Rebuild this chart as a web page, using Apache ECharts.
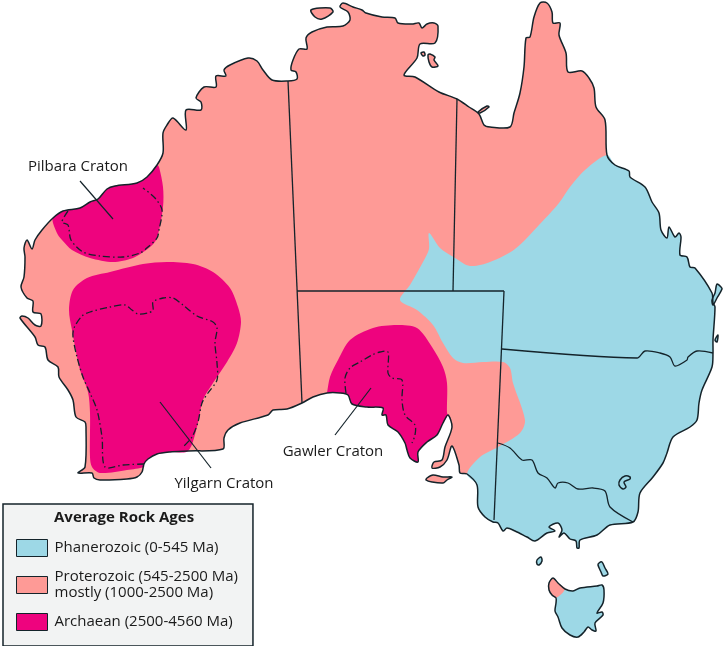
<!DOCTYPE html>
<html>
<head>
    <meta charset="utf-8">
    <title>Average Rock Ages</title>
    <script src="https://cdn.jsdelivr.net/npm/echarts@6/dist/echarts.min.js"></script>
    <style>
        html, body { margin: 0; padding: 0; background: #fff; }
    </style>
</head>
<body>
<div id="main" style="width: 723px;height:646px;"></div>
<script type="text/javascript">
    // map outline, traced clockwise from the south west corner
    var coastWest = [[78,473],[85,467],[86,427],[85,422],[76,417],[73,400],[68,390],[59,377],[58,367],[48,360],[45,347],[38,345],[35,337],[20,318],[22,316],[28,318],[35,325],[41,326],[41,314],[33,312],[33,301],[27,298],[21,287],[24,277],[25,257],[24,248],[27,240],[32,249],[35,240],[42,230],[53,218]];
    var coastPilbara = [[53,218],[63,211],[80,208],[90,202],[98,199],[107,189],[115,186],[137,183],[147,177],[157,165]];
    var coastNorth = [[157,165],[163,153],[163,133],[167,125],[173,118],[186,130],[186,110],[201,110],[201,102],[196,98],[204,87],[216,87],[216,76],[226,76],[224,70],[230,65],[248,58],[257,61],[263,70],[272,80],[288,81],[297,79],[296,72],[291,70],[293,60],[299,49],[307,49],[306,38],[312,32],[327,27],[343,26],[350,20],[348,12],[340,7],[343,3],[353,7],[362,10],[366,13],[382,17],[395,18],[398,23],[412,24],[419,23],[422,28],[427,24],[434,23],[438,26],[435,43],[420,44],[417,58],[404,75],[415,77],[439,92],[457,99],[469,107],[479,114],[484,125],[490,127],[510,127],[514,113],[520,93],[524,67],[526,38],[530,37],[534,17],[540,3],[547,3],[552,12],[553,23],[560,23],[559,35],[566,53],[568,72],[582,71],[589,78],[594,88],[596,107],[605,120],[607,155]];
    var coastEast = [[607,155],[615,165],[629,171],[630,177],[645,187],[652,202],[659,213],[661,230],[667,238],[669,227],[675,237],[679,233],[681,237],[680,255],[687,257],[690,267],[695,268],[712,293],[713,303],[715,307],[713,340],[713,353],[712,367],[702,390],[699,403],[697,420],[690,427],[673,437],[667,453],[663,463],[653,477],[640,493],[638,512],[633,522],[610,525],[597,535],[580,540],[579,548],[577,548],[576,541],[570,539],[564,533],[559,537],[562,530],[558,523],[549,527],[555,531],[547,533],[535,541],[527,537],[515,531],[507,528],[503,531],[498,523],[493,522],[485,517],[478,507],[477,485],[467,474]];
    var coastGulfs = [[467,474],[460,473],[459,465],[452,446],[447,460],[440,467],[432,468],[434,462],[442,460],[445,447],[452,427],[448,415]];
    var coastGawler = [[448,415],[443,423],[437,435],[427,442],[418,452],[418,462],[410,458],[407,450],[405,443],[398,432],[388,425],[386,415],[382,415],[383,408],[367,407],[352,404],[348,395],[340,393],[327,393]];
    var coastBight = [[327,393],[313,397],[302,403],[287,409],[273,410],[268,415],[240,423],[228,430],[224,438],[223,449],[188,451]];
    var coastYilgarn = [[188,451],[170,452],[157,454],[148,459],[144,464]];
    var coastSouthWest = [[144,464],[142,472],[137,477],[127,479],[100,480],[94,478],[92,473],[78,473]];

    var tasmania = [[549,583],[553,578],[558,583],[565,589],[573,591],[580,588],[597,586],[602,585],[604,590],[603,603],[597,613],[602,612],[603,615],[595,623],[596,631],[592,630],[588,627],[584,632],[578,637],[570,635],[562,628],[558,617],[555,611],[556,603],[556,598],[552,595],[549,590]];
    var tasmaniaOld = [[549,583],[553,578],[558,583],[565,589],[556,598],[552,595],[549,590]];

    var islandsOld = [
        [[311,10],[330,8],[333,12],[322,19],[315,17]],
        [[428,55],[430,54],[435,57],[434,60],[438,66],[432,67],[429,62]],
        [[421,53],[424,52],[425,55],[423,56]],
        [[478,112],[487,106],[489,107],[480,113]],
        [[427,478],[433,475],[443,477],[452,477],[447,480],[443,483],[432,482],[426,480]]
    ];
    var islandsYoung = [
        [[717,284],[721,287],[722,289],[717,298],[713,305],[712,300],[715,293]],
        [[715,340],[718,335],[717,342]],
        [[537,560],[541,557],[542,561],[539,565],[537,564]],
        [[599,563],[602,562],[605,568],[608,574],[603,576],[601,572],[598,565]]
    ];

    // edges between the rock ages inside the land
    var youngEdge = [[467,474],[480,457],[498,447],[520,433],[525,420],[513,383],[510,368],[503,362],[483,362],[463,363],[453,358],[443,343],[433,325],[417,310],[400,300],[410,285],[423,262],[429,249],[429,233],[440,248],[455,258],[470,266],[490,262],[515,249],[539,225],[559,203],[570,187],[585,170],[607,155]];
    var pilbaraEdge = [[159,167],[163,187],[163,207],[157,238],[150,247],[133,258],[113,262],[90,258],[72,250],[62,240],[58,235],[53,223]];
    var yilgarnEdge = [[144,467],[127,470],[100,473],[92,467],[90,457],[90,413],[88,392],[80,370],[72,330],[69,310],[73,290],[87,278],[110,272],[143,264],[167,262],[193,264],[213,272],[230,288],[238,307],[241,322],[237,343],[227,362],[213,383],[203,400],[197,427],[188,451]];
    var gawlerEdge = [[327,393],[330,377],[338,360],[350,340],[373,328],[397,325],[417,328],[432,347],[443,367],[447,383],[447,413]];

    // dash-dot limits of the exposed cratons
    var pilbaraLimit = [[68,211],[62,222],[68,225],[71,240],[83,252],[100,256],[123,257],[140,253],[148,247],[157,238],[159,230],[162,210],[155,198],[143,188]];
    var yilgarnLimit = [[144,464],[123,465],[105,467],[102,437],[97,410],[90,393],[83,377],[77,357],[73,337],[74,328],[82,316],[90,312],[110,307],[125,305],[132,310],[138,314],[148,313],[153,310],[153,302],[163,298],[173,298],[183,305],[197,316],[213,322],[217,328],[215,343],[217,363],[217,380],[208,393],[202,403],[198,422],[192,437],[183,447]];
    var gawlerLimit = [[346,393],[345,378],[350,368],[360,362],[372,355],[380,352],[388,352],[388,373],[392,378],[402,380],[402,400],[405,415],[415,425],[415,435],[412,443]];

    // state borders
    var borderWaNt = [[288,81],[302,403]];
    var borderNtSa = [[297,291],[504,291]];
    var borderNtQld = [[457,99],[453,291]];
    var borderSaEast = [[504,291],[494,520]];
    var borderQldNsw = [[502,349],[637,358],[645,351],[660,353],[670,357],[675,366],[687,360],[688,357],[697,351],[713,353]];
    var borderNswVic = [[498,443],[510,448],[522,460],[532,460],[538,473],[547,478],[555,488],[558,483],[568,483],[578,489],[593,488],[605,491],[610,507],[633,522]];
    var lakeHook = [[630,477],[625,476],[620,480],[619,485],[623,489],[626,487],[624,482],[630,479]];

    // leader lines and their labels
    var cratonNames = ['Pilbara Craton', 'Yilgarn Craton', 'Gawler Craton'];
    var cratonLabelAt = [[78,167],[224,484],[333,452]];
    var cratonLeaders = [
        [[80,181],[113,219]],
        [[160,402],[211,468]],
        [[371,388],[335,435]]
    ];

    var legendTitle = 'Average Rock Ages';
    var legendNames = ['Phanerozoic (0-545 Ma)', 'Proterozoic (545-2500 Ma)\nmostly (1000-2500 Ma)', 'Archaean (2500-4560 Ma)'];

    // joins the traced pieces, dropping the point two neighbours share
    function join() {
        var out = [];
        for (var i = 0; i < arguments.length; i++) {
            out = out.concat(i ? arguments[i].slice(1) : arguments[i]);
        }
        return out;
    }

    var landAll = join(coastWest, coastPilbara, coastNorth, coastEast, coastGulfs, coastGawler, coastBight, coastYilgarn, coastSouthWest).slice(0, -1);
    var youngLand = join(coastEast, youngEdge).slice(0, -1);
    var pilbara = [].concat(coastPilbara, pilbaraEdge);
    var yilgarn = [].concat(coastYilgarn, yilgarnEdge).slice(0, -1);
    var gawler = [].concat(coastGawler, gawlerEdge);

    var lineColor = '#14232a';
    var smoothing = 0.3;

    function areaSeries(name, color, shapes, z) {
        return {
            name: name,
            type: 'custom',
            coordinateSystem: 'cartesian2d',
            silent: true,
            z: z,
            itemStyle: { color: color },
            data: shapes.map(function (s, i) { return [i]; }),
            renderItem: function (params, api) {
                return {
                    type: 'polygon',
                    shape: {
                        points: shapes[params.dataIndex].map(function (p) { return api.coord(p); }),
                        smooth: smoothing
                    },
                    style: { fill: color }
                };
            }
        };
    }

    function lineSeries(name, lines, width, dash, closed, z) {
        return {
            name: name,
            type: 'custom',
            coordinateSystem: 'cartesian2d',
            silent: true,
            z: z,
            data: lines.map(function (s, i) { return [i]; }),
            renderItem: function (params, api) {
                var pts = lines[params.dataIndex];
                return {
                    type: closed ? 'polygon' : 'polyline',
                    shape: {
                        points: pts.map(function (p) { return api.coord(p); }),
                        smooth: pts.length > 2 ? smoothing : 0
                    },
                    style: { fill: 'none', stroke: lineColor, lineWidth: width, lineDash: dash, lineJoin: 'round' }
                };
            }
        };
    }

    var myChart = echarts.init(document.getElementById('main'));

    var option = {
        animation: false,
        backgroundColor: '#fff',
        grid: { left: 0, right: 0, top: 0, bottom: 0 },
        xAxis: { type: 'value', min: 0, max: 723, show: false },
        yAxis: { type: 'value', min: 0, max: 646, inverse: true, show: false },
        title: {
            text: legendTitle,
            left: 54,
            top: 510,
            padding: 0,
            z: 20,
            textStyle: { fontFamily: 'Open Sans', fontSize: 15, fontWeight: 'bold', color: '#1a1a1a' }
        },
        legend: {
            orient: 'vertical',
            left: 3,
            top: 504,
            selectedMode: false,
            z: 10,
            padding: [35, 15, 15, 13],
            itemGap: 12,
            itemWidth: 31,
            itemHeight: 17,
            backgroundColor: '#f2f3f3',
            borderColor: lineColor,
            borderWidth: 1.5,
            borderRadius: 0,
            icon: 'rect',
            itemStyle: { borderColor: lineColor, borderWidth: 1 },
            textStyle: { fontFamily: 'Open Sans', fontSize: 15, color: '#1a1a1a', lineHeight: 16, padding: [0, 0, 0, 2] },
            data: legendNames
        },
        series: [
            areaSeries(legendNames[1], '#fe9a96', [landAll].concat(islandsOld), 1),
            areaSeries(legendNames[0], '#9dd8e6', [youngLand, tasmania].concat(islandsYoung), 2),
            areaSeries('tasmania old rock', '#fe9a96', [tasmaniaOld], 3),
            areaSeries(legendNames[2], '#ee037e', [pilbara, yilgarn, gawler], 3),
            lineSeries('limits', [pilbaraLimit, yilgarnLimit, gawlerLimit], 1.3, [7, 3, 1.5, 3], false, 4),
            lineSeries('borders', [borderWaNt, borderNtSa, borderNtQld, borderSaEast, borderQldNsw, borderNswVic], 1.3, null, false, 5),
            lineSeries('coast', [landAll, tasmania, lakeHook].concat(islandsOld, islandsYoung), 1.5, null, true, 5),
            lineSeries('leaders', cratonLeaders, 1.2, null, false, 6),
            {
                name: 'labels',
                type: 'custom',
                coordinateSystem: 'cartesian2d',
                silent: true,
                z: 7,
                data: cratonNames.map(function (s, i) { return [i]; }),
                renderItem: function (params, api) {
                    var p = api.coord(cratonLabelAt[params.dataIndex]);
                    return {
                        type: 'text',
                        style: {
                            x: p[0], y: p[1],
                            text: cratonNames[params.dataIndex],
                            align: 'center',
                            verticalAlign: 'middle',
                            fill: '#1a1a1a',
                            font: '15px "Open Sans"'
                        }
                    };
                }
            }
        ]
    };

    myChart.setOption(option);
</script>
</body>
</html>
